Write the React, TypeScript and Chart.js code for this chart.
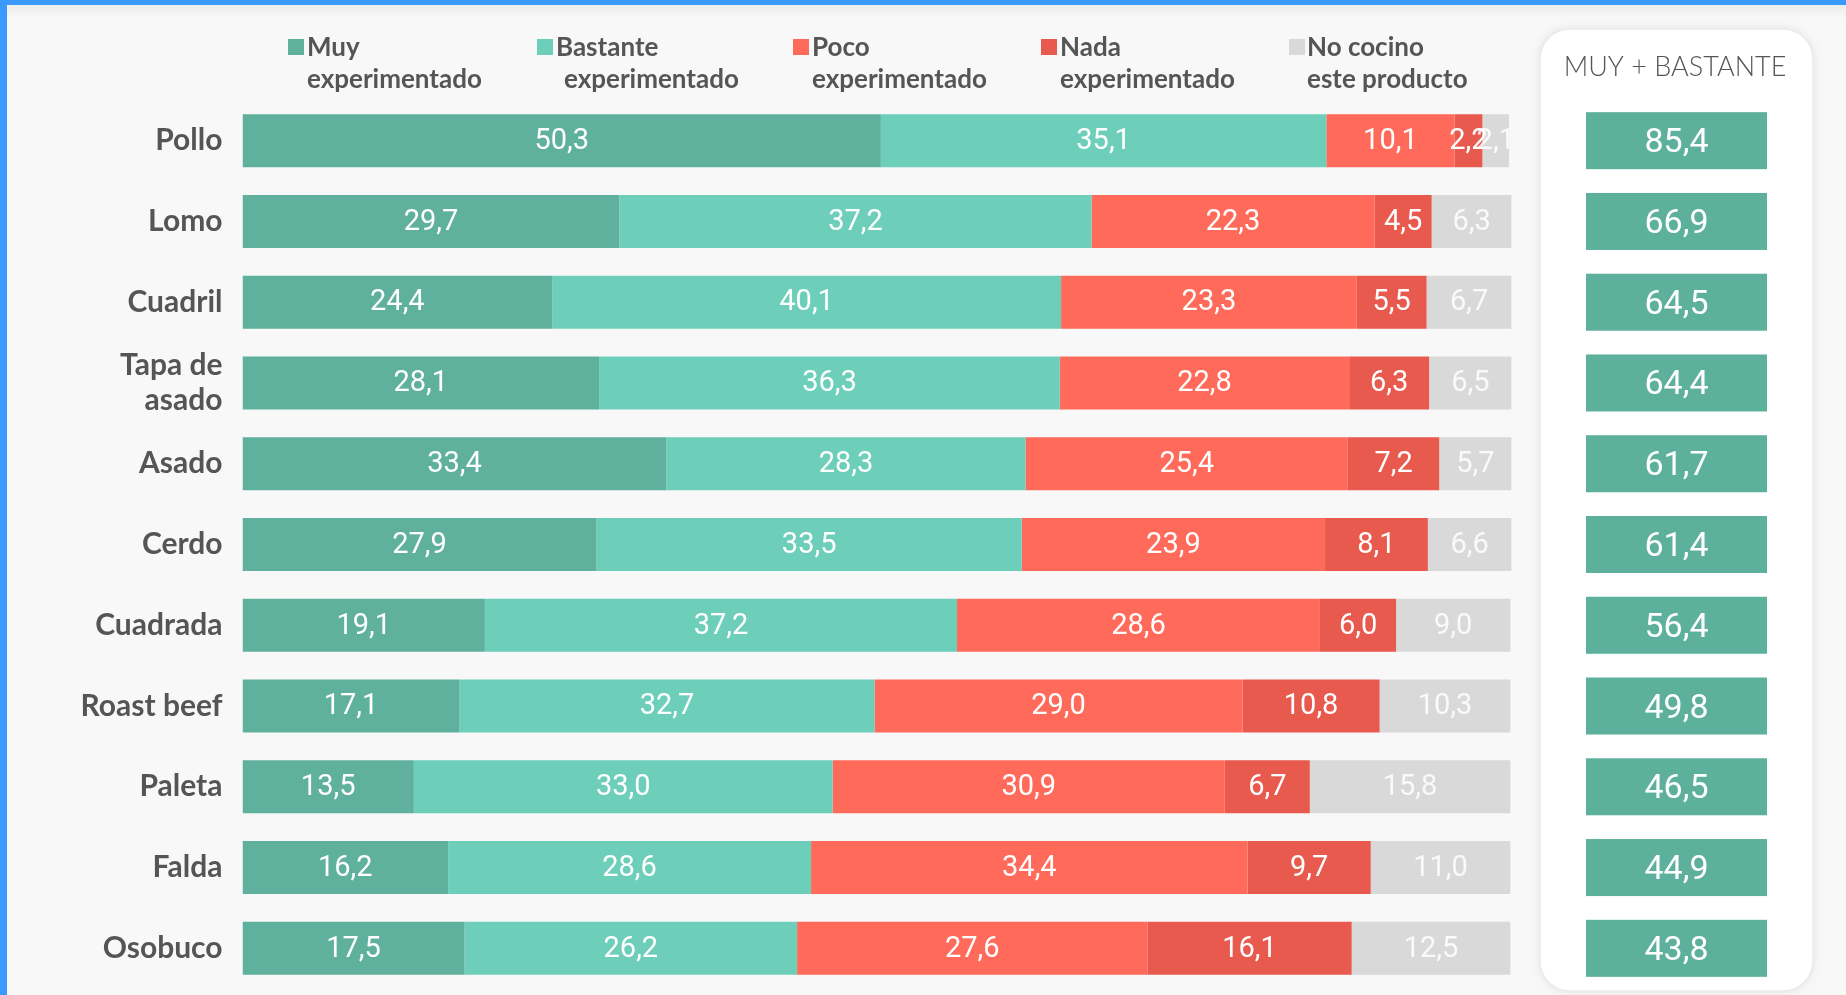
import React, { useEffect, useRef } from "react";
import { Chart, registerables } from "chart.js";

Chart.register(...registerables);

const CATEGORIES: (string | string[])[] = [
  "Pollo",
  "Lomo",
  "Cuadril",
  ["Tapa de", "asado"],
  "Asado",
  "Cerdo",
  "Cuadrada",
  "Roast beef",
  "Paleta",
  "Falda",
  "Osobuco",
];

const MUY = [50.3, 29.7, 24.4, 28.1, 33.4, 27.9, 19.1, 17.1, 13.5, 16.2, 17.5];
const BASTANTE = [35.1, 37.2, 40.1, 36.3, 28.3, 33.5, 37.2, 32.7, 33.0, 28.6, 26.2];
const POCO = [10.1, 22.3, 23.3, 22.8, 25.4, 23.9, 28.6, 29.0, 30.9, 34.4, 27.6];
const NADA = [2.2, 4.5, 5.5, 6.3, 7.2, 8.1, 6.0, 10.8, 6.7, 9.7, 16.1];
const NO_COCINO = [2.1, 6.3, 6.7, 6.5, 5.7, 6.6, 9.0, 10.3, 15.8, 11.0, 12.5];
const MUY_BASTANTE = [85.4, 66.9, 64.5, 64.4, 61.7, 61.4, 56.4, 49.8, 46.5, 44.9, 43.8];

const SERIES_NAMES = ["Muy experimentado", "Bastante experimentado", "Poco experimentado", "Nada experimentado", "No cocino este producto"];
const LEGEND_LINES = [
  ["Muy", "experimentado"],
  ["Bastante", "experimentado"],
  ["Poco", "experimentado"],
  ["Nada", "experimentado"],
  ["No cocino", "este producto"],
];
const PANEL_TITLE = "MUY + BASTANTE";

const COLORS = ["#5fb09d", "#6dcfba", "#ff6a5a", "#e95a4e", "#d9d9d9"];
const PANEL_BOX_COLOR = "#5cb09c";

const W = 1846;
const H = 995;

const fmt = (v: number) => v.toFixed(1).replace(".", ",");

// layout (pixels)
const LEGEND_POS = [
  { sq: 288, l1: 307, l2: 307 },
  { sq: 537, l1: 556, l2: 564 },
  { sq: 793, l1: 812, l2: 812 },
  { sq: 1041, l1: 1060, l2: 1060 },
  { sq: 1289, l1: 1307, l2: 1307 },
];

const decorPlugin = {
  id: "decor",
  beforeDraw(chart: any) {
    const ctx = chart.ctx as CanvasRenderingContext2D;
    ctx.save();
    ctx.fillStyle = "#f8f8f8";
    ctx.fillRect(0, 0, W, H);
    const g = ctx.createLinearGradient(0, 5, 0, 18);
    g.addColorStop(0, "#ececec");
    g.addColorStop(1, "#f8f8f8");
    ctx.fillStyle = g;
    ctx.fillRect(0, 5, W, 13);

    // card
    ctx.save();
    ctx.shadowColor = "rgba(0,0,0,0.10)";
    ctx.shadowBlur = 8;
    ctx.fillStyle = "#ffffff";
    ctx.beginPath();
    (ctx as any).roundRect(1540, 29, 273, 962, 30);
    ctx.fill();
    ctx.restore();
    ctx.strokeStyle = "#ebebeb";
    ctx.lineWidth = 1.5;
    ctx.beginPath();
    (ctx as any).roundRect(1540, 29, 273, 962, 30);
    ctx.stroke();

    ctx.fillStyle = "#555555";
    ctx.font = "300 27px Lato";
    ctx.textAlign = "center";
    ctx.textBaseline = "middle";
    ctx.fillText(PANEL_TITLE, 1675, 67);

    // legend
    ctx.textAlign = "left";
    ctx.textBaseline = "alphabetic";
    ctx.font = "bold 26px Lato";
    LEGEND_LINES.forEach((lines, i) => {
      const p = LEGEND_POS[i];
      ctx.fillStyle = COLORS[i];
      ctx.fillRect(p.sq, 39, 16, 16);
      ctx.fillStyle = "#555555";
      ctx.fillText(lines[0], p.l1, 56);
      ctx.fillText(lines[1], p.l2, 88);
    });
    ctx.restore();
  },
  afterDatasetsDraw(chart: any) {
    const ctx = chart.ctx as CanvasRenderingContext2D;
    ctx.save();
    ctx.textAlign = "center";
    ctx.textBaseline = "middle";
    ctx.font = "29px Roboto";
    chart.data.datasets.forEach((ds: any, di: number) => {
      const meta = chart.getDatasetMeta(di);
      meta.data.forEach((bar: any, i: number) => {
        const cx = (bar.base + bar.x) / 2;
        ctx.fillStyle = di === 4 ? "rgba(255,255,255,0.85)" : "#ffffff";
        ctx.fillText(fmt(ds.data[i]), cx, bar.y + 1);
      });
    });
    const ys = chart.scales.y;
    ctx.font = "34px Roboto";
    MUY_BASTANTE.forEach((v, i) => {
      const y = ys.getPixelForValue(i);
      ctx.fillStyle = PANEL_BOX_COLOR;
      ctx.fillRect(1586, y - 28.5, 181, 57);
      ctx.fillStyle = "#ffffff";
      ctx.fillText(fmt(v), 1676.5, y + 3);
    });
    ctx.restore();
  },
};

export default function App() {
  const ref = useRef<HTMLCanvasElement | null>(null);
  useEffect(() => {
    if (!ref.current) return;
    const values = [MUY, BASTANTE, POCO, NADA, NO_COCINO];
    const chart = new Chart(ref.current, {
      type: "bar",
      data: {
        labels: CATEGORIES as any,
        datasets: values.map((d, i) => ({
          label: SERIES_NAMES[i],
          data: d,
          backgroundColor: COLORS[i],
          borderWidth: 0,
          categoryPercentage: 1,
          barPercentage: 0.656,
        })),
      },
      options: {
        indexAxis: "y",
        animation: false,
        responsive: false,
        devicePixelRatio: 1,
        layout: { padding: { top: 100.3, bottom: 6.3, right: 334.4, left: 0 } },
        plugins: { legend: { display: false }, tooltip: { enabled: false } },
        scales: {
          x: { stacked: true, min: 0, max: 100, display: false },
          y: {
            stacked: true,
            grid: { display: false, drawTicks: false },
            border: { display: false },
            ticks: {
              color: "#555555",
              padding: 20,
              font: { family: "Lato", weight: "bold", size: 30, lineHeight: 1.15 },
            },
            afterFit(scale: any) {
              scale.width = 242.5;
              scale.paddingTop = 0;
              scale.paddingBottom = 0;
            },
          },
        },
      } as any,
      plugins: [decorPlugin],
    });
    return () => chart.destroy();
  }, []);

  return (
    <div style={{ position: "fixed", left: 0, top: 0, width: W, height: H, overflow: "hidden", background: "#f8f8f8" }}>
      <canvas ref={ref} width={W} height={H} style={{ display: "block", width: W, height: H }} />
      <div style={{ position: "absolute", left: 0, top: 0, width: W, height: 5, background: "#3a99fd" }} />
      <div style={{ position: "absolute", left: 0, top: 0, width: 7, height: H, background: "#3a99fd" }} />
    </div>
  );
}
